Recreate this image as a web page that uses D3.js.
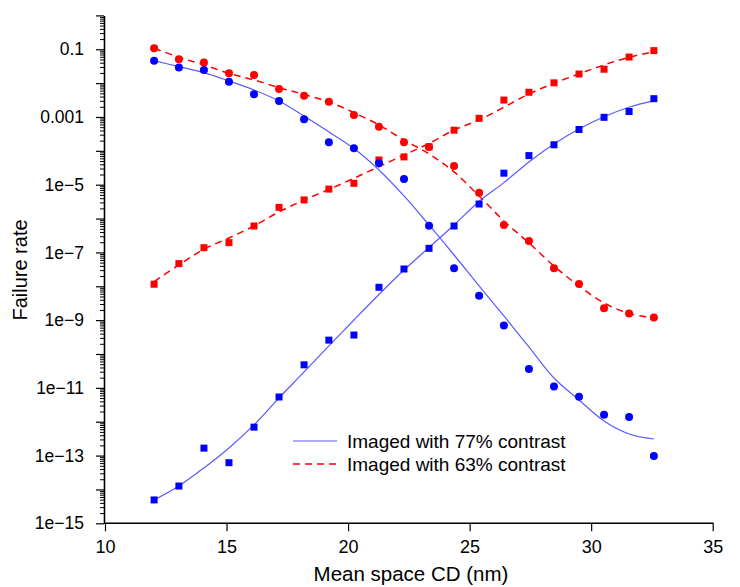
<!DOCTYPE html>
<html><head><meta charset="utf-8">
<script src="https://cdn.jsdelivr.net/npm/d3@7"></script>
<style>body{margin:0;background:#fff;} text{font-family:"Liberation Sans",Arial,sans-serif;fill:#000;}</style>
</head><body><svg id="c" width="740" height="587"></svg>
<script>
// Mean space CD (nm) at each measured point
const cd = [12.02,13.04,14.07,15.10,16.13,17.16,18.19,19.21,20.24,21.27,22.30,23.33,24.36,25.39,26.41,27.44,28.47,29.50,30.53,31.56,32.58];
// 77% contrast (blue)
const blueCircles = [4.57e-2,2.88e-2,2.45e-2,1.10e-2,4.68e-3,2.95e-3,8.51e-4,1.78e-4,1.20e-4,4.27e-5,1.48e-5,6.17e-7,3.39e-8,5.25e-9,6.92e-10,3.63e-11,1.10e-11,5.50e-12,1.62e-12,1.38e-12,9.77e-14];
const blueSquares = [4.90e-15,1.26e-14,1.66e-13,6.17e-14,6.92e-13,5.37e-12,4.79e-11,2.57e-10,3.63e-10,9.33e-9,3.24e-8,1.32e-7,6.03e-7,2.69e-6,2.19e-5,7.24e-5,1.51e-4,4.27e-4,9.77e-4,1.45e-3,3.47e-3];
const blueFitDown = [4.60e-2,3.06e-2,2.04e-2,1.16e-2,6.28e-3,2.97e-3,1.07e-3,3.61e-4,1.17e-4,2.72e-5,4.65e-6,6.46e-7,8.39e-8,1.02e-8,1.33e-9,1.61e-10,1.95e-11,4.39e-12,1.05e-12,4.35e-13,3.09e-13];
const blueFitUp = [4.90e-15,1.27e-14,4.32e-14,1.68e-13,8.04e-13,5.05e-12,2.95e-11,1.73e-10,1.01e-9,5.73e-9,3.03e-8,1.40e-7,6.47e-7,3.20e-6,1.15e-5,4.70e-5,1.60e-4,4.43e-4,1.02e-3,1.94e-3,3.03e-3];
// 63% contrast (red)
const redCircles = [1.07e-1,5.07e-2,4.03e-2,1.95e-2,1.74e-2,6.76e-3,4.27e-3,2.82e-3,1.15e-3,5.13e-4,1.78e-4,1.29e-4,3.55e-5,5.75e-6,6.46e-7,2.19e-7,3.39e-8,1.17e-8,2.24e-9,1.58e-9,1.20e-9];
const redSquares = [1.15e-8,4.68e-8,1.38e-7,1.95e-7,6.03e-7,2.14e-6,3.55e-6,7.41e-6,1.10e-5,5.37e-5,6.61e-5,1.32e-4,4.07e-4,9.12e-4,3.16e-3,5.37e-3,1.02e-2,1.86e-2,2.57e-2,5.89e-2,9.12e-2];
const redFitDown = [1.07e-1,5.81e-2,3.44e-2,1.95e-2,1.24e-2,7.35e-3,4.62e-3,2.78e-3,1.34e-3,5.82e-4,2.09e-4,8.09e-5,2.38e-5,4.65e-6,8.49e-7,1.90e-7,3.98e-8,1.02e-8,3.21e-9,1.57e-9,1.14e-9];
const redFitUp = [1.37e-8,4.27e-8,1.24e-7,2.67e-7,6.04e-7,1.57e-6,3.54e-6,7.23e-6,1.55e-5,3.41e-5,7.55e-5,1.65e-4,4.14e-4,8.17e-4,1.94e-3,4.79e-3,9.91e-3,1.87e-2,3.44e-2,5.81e-2,8.49e-2];
const xTicks = [10,15,20,25,30,35];
const yMajor = [1e-15,1e-14,1e-13,1e-12,1e-11,1e-10,1e-9,1e-8,1e-7,1e-6,1e-5,1e-4,1e-3,1e-2,1e-1,1];
const yLabels = {"1e-1":"0.1","1e-3":"0.001","1e-5":"1e\u22125","1e-7":"1e\u22127","1e-9":"1e\u22129","1e-11":"1e\u221211","1e-13":"1e\u221213","1e-15":"1e\u221215"};
const legendLabels = ["Imaged with 77% contrast","Imaged with 63% contrast"];

const svg = d3.select("#c");
const x = d3.scaleLinear().domain([10,35]).range([105,712.7]);
const y = d3.scaleLog().domain([1e-15,1]).range([523.3,15.4]);
const BLUE="#0000ff", BLUEL="#5a5aff", RED="#ff0000";

// axes
const ax = svg.append("g").attr("transform","translate(0,523.3)")
  .call(d3.axisBottom(x).tickValues(xTicks).tickSize(8).tickSizeOuter(0).tickFormat(d3.format("d")));
ax.select(".domain").attr("stroke-width",1.6).attr("d","M104,0H713.5");
ax.selectAll(".tick line").attr("stroke-width",1.2);
ax.selectAll(".tick text").attr("font-size",18).attr("dy","1.05em").attr("font-family","Liberation Sans, Arial, sans-serif");

const minorVals = [];
yMajor.slice(0,-1).forEach(m=>{for(let k=2;k<=9;k++) minorVals.push(m*k);});
const ayMinor = svg.append("g").attr("transform","translate(104,0)")
  .call(d3.axisLeft(y).tickValues(minorVals).tickSize(4).tickFormat(""));
ayMinor.select(".domain").remove();
const ay = svg.append("g").attr("transform","translate(104,0)")
  .call(d3.axisLeft(y).tickValues(yMajor).tickSize(8).tickSizeOuter(0)
    .tickFormat(d=>{const e=Math.round(Math.log10(d)); return yLabels["1e"+e]||"";}));
ay.select(".domain").attr("stroke-width",1.6);
ay.selectAll(".tick line").attr("stroke-width",1.2);
ay.selectAll(".tick text").attr("font-size",17.5).attr("x",-20).attr("font-family","Liberation Sans, Arial, sans-serif");

svg.append("text").attr("x",411).attr("y",581).attr("text-anchor","middle").attr("font-size",20.5).text("Mean space CD (nm)");
svg.append("text").attr("transform","translate(27,270) rotate(-90)").attr("text-anchor","middle").attr("font-size",20).text("Failure rate");

// fits
const line = d3.line().x((d,i)=>x(cd[i])).y(d=>y(d)).curve(d3.curveCatmullRom.alpha(0.5));
[blueFitDown,blueFitUp].forEach(s=>svg.append("path").attr("d",line(s)).attr("fill","none").attr("stroke",BLUEL).attr("stroke-width",1.2));
[redFitDown,redFitUp].forEach(s=>svg.append("path").attr("d",line(s)).attr("fill","none").attr("stroke",RED).attr("stroke-width",1.5).attr("stroke-dasharray","7,5"));

// markers
function circles(s,c){svg.append("g").selectAll("circle").data(s).join("circle").attr("cx",(d,i)=>x(cd[i])).attr("cy",d=>y(d)).attr("r",4).attr("fill",c);}
function squares(s,c){svg.append("g").selectAll("rect").data(s).join("rect").attr("x",(d,i)=>x(cd[i])-3.5).attr("y",d=>y(d)-3.5).attr("width",7).attr("height",7).attr("fill",c);}
squares(redSquares,RED); circles(redCircles,RED);
squares(blueSquares,BLUE); circles(blueCircles,BLUE);

// legend
const lg = svg.append("g");
lg.append("line").attr("x1",293).attr("x2",337).attr("y1",441).attr("y2",441).attr("stroke",BLUEL).attr("stroke-width",1.2);
lg.append("line").attr("x1",293).attr("x2",337).attr("y1",464).attr("y2",464).attr("stroke",RED).attr("stroke-width",1.5).attr("stroke-dasharray","7,5");
lg.selectAll("text").data(legendLabels).join("text").attr("x",347).attr("y",(d,i)=>441+i*23).attr("dy","0.35em").attr("font-size",19).text(d=>d);
</script></body></html>
